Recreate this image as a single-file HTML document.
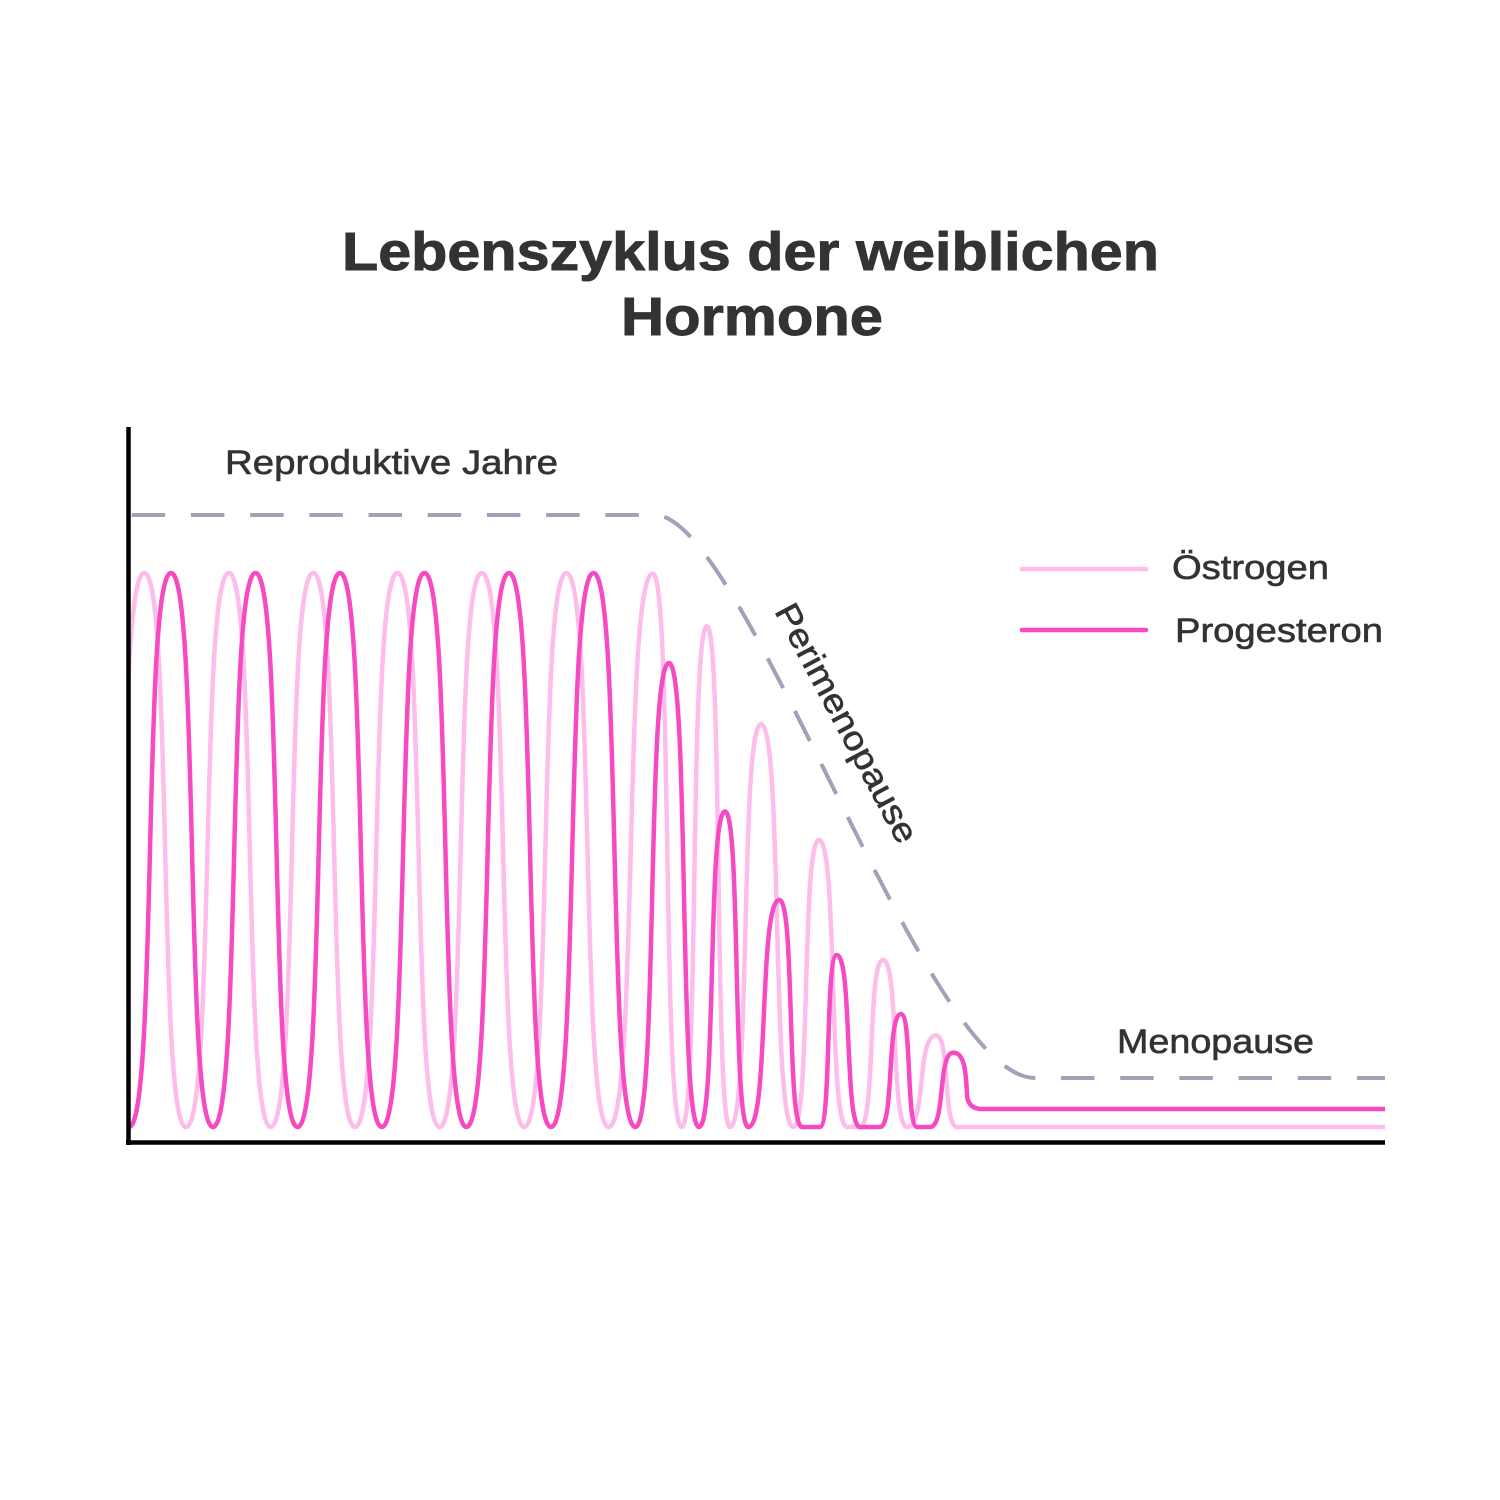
<!DOCTYPE html>
<html>
<head>
<meta charset="utf-8">
<style>
  html, body { margin: 0; padding: 0; background: #ffffff; }
  svg { display: block; }
  .t { font-family: "Liberation Sans", "DejaVu Sans", sans-serif; fill: #333333; stroke: #333333; stroke-width: 0.6; }
  .tb { font-family: "Liberation Sans", "DejaVu Sans", sans-serif; fill: #333333; stroke: #333333; stroke-width: 0.9; }
</style>
</head>
<body>
<svg width="1500" height="1500" viewBox="0 0 1500 1500" xmlns="http://www.w3.org/2000/svg">
  <rect x="0" y="0" width="1500" height="1500" fill="#ffffff"/>
  <defs>
    <clipPath id="plot">
      <rect x="130" y="400" width="1260" height="740"/>
    </clipPath>
  </defs>

  <!-- Title -->
  <text class="tb" x="342" y="270" font-size="54" font-weight="bold" textLength="817" lengthAdjust="spacingAndGlyphs">Lebenszyklus der weiblichen</text>
  <text class="tb" x="621" y="335" font-size="54" font-weight="bold" textLength="262" lengthAdjust="spacingAndGlyphs">Hormone</text>

  <!-- Labels -->
  <text class="t" x="225" y="474" font-size="34" textLength="333" lengthAdjust="spacingAndGlyphs">Reproduktive Jahre</text>
  <text class="t" x="1117" y="1053" font-size="34" textLength="197" lengthAdjust="spacingAndGlyphs">Menopause</text>
  <text class="t" x="0" y="0" font-size="34" textLength="266" lengthAdjust="spacingAndGlyphs" transform="translate(774,611) rotate(62)">Perimenopause</text>

  <!-- Legend -->
  <line x1="1022" y1="569" x2="1146" y2="569" stroke="#fdbdea" stroke-width="4.5" stroke-linecap="round"/>
  <line x1="1022" y1="630" x2="1146" y2="630" stroke="#f64ac3" stroke-width="4.5" stroke-linecap="round"/>
  <text class="t" x="1172" y="579" font-size="34" textLength="157" lengthAdjust="spacingAndGlyphs">Östrogen</text>
  <text class="t" x="1175" y="642" font-size="34" textLength="208" lengthAdjust="spacingAndGlyphs">Progesteron</text>

  <!-- Dashed envelope -->
  <path d="M131.7,515 L655,515 C745,515 925,1078 1035,1078 L1385,1078" fill="none" stroke="#a3a1b7" stroke-width="4" stroke-dasharray="33.5 25.7"/>

  <g clip-path="url(#plot)" fill="none" stroke-width="4.5" stroke-linejoin="round">
    <!-- Östrogen (light) -->
    <path stroke="#fdbdea" d="M101.5,1127
      C130.6,1127 115.2,573 144.3,573
      C172.7,573 157.6,1127 186,1127
      C215.2,1127 199.7,573 228.9,573
      C257.3,573 242.3,1127 270.7,1127
      C299.6,1127 284.3,573 313.2,573
      C341.6,573 326.6,1127 355,1127
      C383.9,1127 368.6,573 397.5,573
      C426.1,573 411,1127 439.6,1127
      C468.3,1127 453.1,573 481.8,573
      C510.7,573 495.4,1127 524.3,1127
      C552.9,1127 537.8,573 566.4,573
      C595.1,573 579.9,1127 608.6,1127
      C638.7,1127 622.8,573.6 652.9,573.6
      C672.5,573.6 662.1,1127 681.7,1127
      C698.9,1127 689.8,626.3 707,626.3
      C722.6,626.3 714.4,1127 730,1127
      C751.1,1127 739.9,724.3 761,724.3
      C783,724.3 771.3,1127 793.3,1127
      C810.8,1127 801.5,840 819,840
      C838,840 828,1127 847,1127
      L860,1127
      C875.6,1127 867.4,960 883,960
      C899.3,960 890.7,1127 907,1127
      C926.7,1127 916.3,1035.4 936,1035.4
      C950.3,1035.4 942.7,1127 957,1127
      L1385,1127"/>
    <!-- Progesteron (dark) -->
    <path stroke="#f64ac3" d="M129,1127
      C157.6,1127 142.4,573 171,573
      C199.6,573 184.4,1127 213,1127
      C241.9,1127 226.6,573 255.5,573
      C284.1,573 268.9,1127 297.5,1127
      C326.4,1127 311.1,573 340,573
      C368.4,573 353.4,1127 381.8,1127
      C410.8,1127 395.5,573 424.5,573
      C453,573 437.9,1127 466.4,1127
      C495.4,1127 480,573 509,573
      C537.6,573 522.4,1127 551,1127
      C579.9,1127 564.6,573 593.5,573
      C622,573 606.9,1127 635.4,1127
      C658.2,1127 646.2,663 669,663
      C689.4,663 678.6,1127 699,1127
      C716.7,1127 707.3,811.5 725,811.5
      C740.8,811.5 732.5,1127 748.3,1127
      C769.5,1127 758.3,900 779.5,900
      C794.8,900 786.7,1127 802,1127
      L820,1127
      C831.4,1127 825.3,955 836.7,955
      C852.5,955 844.2,1127 860,1127
      L880,1127
      C894.3,1127 886.7,1014 901,1014
      C911.9,1014 906.1,1127 917,1127
      L930,1127
      C945.8,1127 937.5,1052.6 953.3,1052.6
      C964,1052.6 966,1070 967,1095
      Q968,1109 982,1109
      L1385,1109"/>
  </g>

  <!-- Axes -->
  <line x1="128.5" y1="427" x2="128.5" y2="1145" stroke="#000000" stroke-width="4.5"/>
  <line x1="126" y1="1142.5" x2="1385" y2="1142.5" stroke="#000000" stroke-width="4.5"/>
</svg>
</body>
</html>
